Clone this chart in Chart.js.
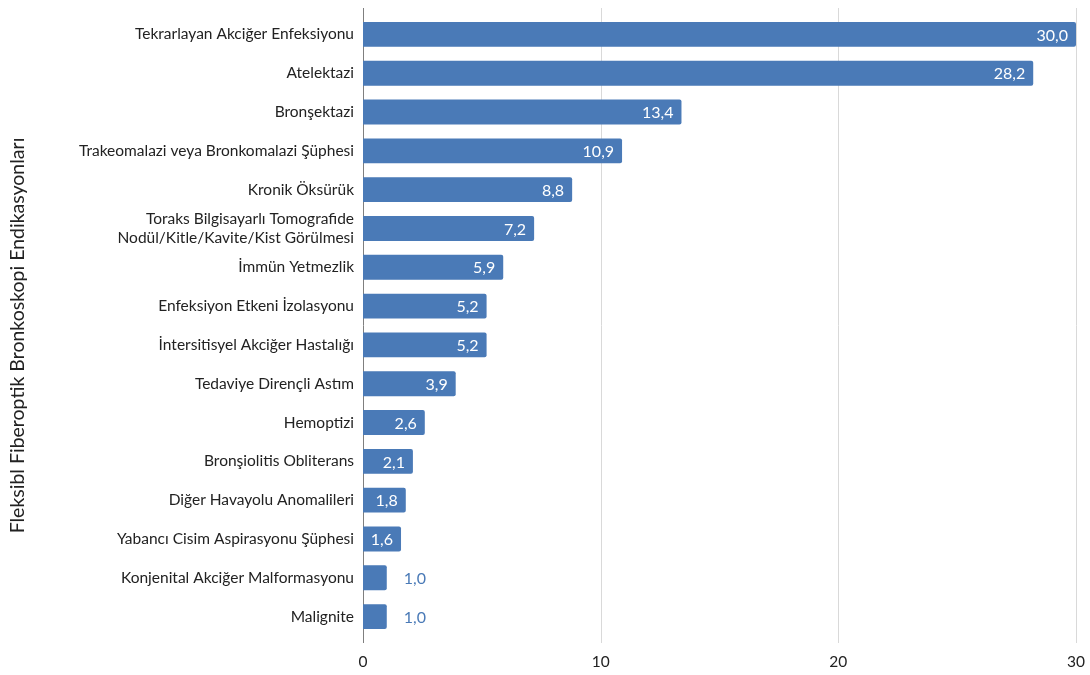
<!DOCTYPE html>
<html><head><meta charset="utf-8">
<script src="https://cdn.jsdelivr.net/npm/chart.js@4.4.1/dist/chart.umd.min.js"></script>
<style>html,body{margin:0;padding:0;background:#fff}#wrap{width:1090px;height:675px}</style>
</head><body><div id="wrap"><canvas id="c" width="1090" height="675"></canvas></div>
<script>
const categories = [
  "Tekrarlayan Akciğer Enfeksiyonu",
  "Atelektazi",
  "Bronşektazi",
  "Trakeomalazi veya Bronkomalazi Şüphesi",
  "Kronik Öksürük",
  ["Toraks Bilgisayarlı Tomografide", "Nodül/Kitle/Kavite/Kist Görülmesi"],
  "İmmün Yetmezlik",
  "Enfeksiyon Etkeni İzolasyonu",
  "İntersitisyel Akciğer Hastalığı",
  "Tedaviye Dirençli Astım",
  "Hemoptizi",
  "Bronşiolitis Obliterans",
  "Diğer Havayolu Anomalileri",
  "Yabancı Cisim Aspirasyonu Şüphesi",
  "Konjenital Akciğer Malformasyonu",
  "Malignite"
];
const values = [30.0, 28.2, 13.4, 10.9, 8.8, 7.2, 5.9, 5.2, 5.2, 3.9, 2.6, 2.1, 1.8, 1.6, 1.0, 1.0];
const xTicks = [0, 10, 20, 30];
const axisTitle = "Fleksibl Fiberoptik Bronkoskopi Endikasyonları";

const FONT = "Lato, 'Open Sans', sans-serif";
const BLUE = "#4a7ab7";

const gridPlugin = {
  id: 'extGrid',
  beforeDatasetsDraw(chart) {
    const ctx = chart.ctx, a = chart.chartArea, xs = chart.scales.x;
    ctx.save();
    ctx.lineWidth = 1;
    xTicks.forEach(v => {
      const x = Math.round(xs.getPixelForValue(v)) + 0.5;
      ctx.strokeStyle = v === 0 ? "#7f7f7f" : "#d9d9d9";
      ctx.beginPath();
      ctx.moveTo(x, a.top - 7);
      ctx.lineTo(x, a.bottom + 7);
      ctx.stroke();
    });
    ctx.restore();
  },
  afterDraw(chart) {
    const ctx = chart.ctx, a = chart.chartArea;
    ctx.save();
    ctx.translate(18, (a.top + a.bottom) / 2 + 10);
    ctx.rotate(-Math.PI / 2);
    ctx.font = "19.5px " + FONT;
    ctx.fillStyle = "#222";
    ctx.textAlign = "center";
    ctx.textBaseline = "middle";
    ctx.fillText(axisTitle, 0, 0);
    ctx.restore();
  }
};

const labelPlugin = {
  id: 'valLabels',
  afterDatasetsDraw(chart) {
    const ctx = chart.ctx;
    const meta = chart.getDatasetMeta(0);
    ctx.save();
    ctx.font = "16px " + FONT;
    ctx.textBaseline = "middle";
    meta.data.forEach((bar, i) => {
      const txt = values[i].toFixed(1).replace('.', ',');
      const w = ctx.measureText(txt).width;
      const barW = bar.x - bar.base;
      if (barW > w + 14) {
        ctx.fillStyle = "#ffffff";
        ctx.textAlign = "right";
        ctx.fillText(txt, bar.x - 8, bar.y + 1);
      } else {
        ctx.fillStyle = BLUE;
        ctx.textAlign = "left";
        ctx.fillText(txt, bar.x + 17, bar.y + 1);
      }
    });
    ctx.restore();
  }
};

new Chart(document.getElementById('c'), {
  type: 'bar',
  data: {
    labels: categories,
    datasets: [{
      data: values,
      backgroundColor: BLUE,
      borderRadius: 2,
      borderSkipped: 'start',
      categoryPercentage: 1,
      barPercentage: 0.64
    }]
  },
  options: {
    indexAxis: 'y',
    responsive: false,
    animation: false,
    devicePixelRatio: 1,
    layout: { padding: { top: 15, right: 14, left: 0, bottom: 0 } },
    plugins: { legend: { display: false }, tooltip: { enabled: false } },
    scales: {
      x: {
        min: 0, max: 30,
        afterBuildTicks(s) { s.ticks = xTicks.map(v => ({ value: v })); },
        afterFit(s) { s.height = 39; s.paddingRight = 0; s.paddingLeft = 0; },
        grid: { display: false, drawTicks: false },
        border: { display: false },
        ticks: { color: "#222", font: { family: FONT, size: 15.5 }, padding: 17, maxRotation: 0 }
      },
      y: {
        afterFit(s) { s.width = 363; s.paddingTop = 0; s.paddingBottom = 0; },
        grid: { display: false, drawTicks: false },
        border: { display: false },
        ticks: { color: "#222", font: { family: FONT, size: 15.5 }, padding: 9, autoSkip: false },
        title: { display: false }
      }
    }
  },
  plugins: [gridPlugin, labelPlugin]
});
</script></body></html>
